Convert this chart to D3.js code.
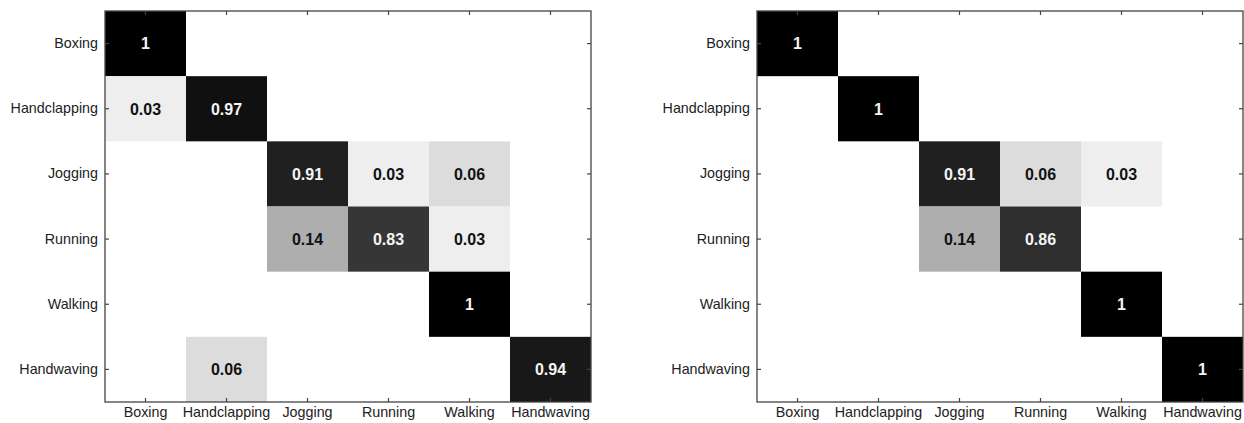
<!DOCTYPE html>
<html>
<head>
<meta charset="utf-8">
<script src="https://cdn.jsdelivr.net/npm/d3@7"></script>
<style>
  html, body { margin: 0; padding: 0; background: #fff; }
  svg { display: block; }
  text { font-family: "Liberation Sans", Arial, Helvetica, sans-serif; }
</style>
</head>
<body>
<svg id="chart" width="1244" height="423"></svg>
<script>
// Action classes (rows = true class, columns = predicted class)
const categories = ["Boxing", "Handclapping", "Jogging", "Running", "Walking", "Handwaving"];

// Confusion matrix, first method
const matrixLeft = [
  [1,    0,    0,    0,    0,    0   ],
  [0.03, 0.97, 0,    0,    0,    0   ],
  [0,    0,    0.91, 0.03, 0.06, 0   ],
  [0,    0,    0.14, 0.83, 0.03, 0   ],
  [0,    0,    0,    0,    1,    0   ],
  [0,    0.06, 0,    0,    0,    0.94]
];

// Confusion matrix, second method
const matrixRight = [
  [1,    0,    0,    0,    0,    0   ],
  [0,    1,    0,    0,    0,    0   ],
  [0,    0,    0.91, 0.06, 0.03, 0   ],
  [0,    0,    0.14, 0.86, 0,    0   ],
  [0,    0,    0,    0,    1,    0   ],
  [0,    0,    0,    0,    0,    1   ]
];

const svg = d3.select("#chart");

// gray level for a cell value (white = 0, black = 1)
const grayLevel = d3.scaleLinear()
  .domain([0, 0.15, 0.8, 0.97, 1])
  .range([255, 168, 62, 16, 0])
  .clamp(true);
const cellColor = v => { const g = Math.round(grayLevel(v)); return `rgb(${g},${g},${g})`; };
const fmt = v => (v === 1 ? "1" : v.toFixed(2));

function drawMatrix(matrix, box) {
  const g = svg.append("g").attr("transform", `translate(${box.x},${box.y})`);
  const x = d3.scaleBand().domain(categories).range([0, box.w]).padding(0);
  const y = d3.scaleBand().domain(categories).range([0, box.h]).padding(0);

  const cells = [];
  matrix.forEach((row, i) => row.forEach((v, j) => {
    if (v > 0) cells.push({ row: categories[i], col: categories[j], v });
  }));

  g.selectAll("rect.cell").data(cells).join("rect")
    .attr("class", "cell")
    .attr("x", d => x(d.col))
    .attr("y", d => y(d.row))
    .attr("width", x.bandwidth())
    .attr("height", y.bandwidth())
    .attr("fill", d => cellColor(d.v));

  g.selectAll("text.val").data(cells).join("text")
    .attr("class", "val")
    .attr("x", d => x(d.col) + x.bandwidth() / 2)
    .attr("y", d => y(d.row) + y.bandwidth() / 2)
    .attr("dy", "0.36em")
    .attr("text-anchor", "middle")
    .attr("font-size", 16)
    .attr("font-weight", "bold")
    .attr("fill", d => d.v > 0.5 ? "#f4f4f4" : "#111")
    .text(d => fmt(d.v));

  // axes with inward ticks on all four sides
  const tick = 4;
  const axisStyle = sel => {
    sel.select(".domain").remove();
    sel.selectAll(".tick line").attr("stroke", "#444").attr("stroke-width", 1.2);
    sel.selectAll(".tick text")
      .attr("fill", "#222")
      .attr("font-size", 14.3)
      .attr("font-family", "'Liberation Sans', Arial, Helvetica, sans-serif");
  };

  g.append("g").attr("transform", `translate(0,${box.h})`)
    .call(d3.axisBottom(x).tickSizeInner(-tick).tickSizeOuter(0).tickPadding(5))
    .call(axisStyle);
  g.append("g")
    .call(d3.axisTop(x).tickSizeInner(-tick).tickSizeOuter(0).tickFormat(""))
    .call(axisStyle);
  g.append("g")
    .call(d3.axisLeft(y).tickSizeInner(-tick).tickSizeOuter(0).tickPadding(7))
    .call(axisStyle);
  g.append("g").attr("transform", `translate(${box.w},0)`)
    .call(d3.axisRight(y).tickSizeInner(-tick).tickSizeOuter(0).tickFormat(""))
    .call(axisStyle);

  g.append("rect")
    .attr("x", 0).attr("y", 0)
    .attr("width", box.w).attr("height", box.h)
    .attr("fill", "none")
    .attr("stroke", "#444")
    .attr("stroke-width", 1.3);
}

drawMatrix(matrixLeft,  { x: 105, y: 11, w: 486, h: 391 });
drawMatrix(matrixRight, { x: 757, y: 11, w: 486, h: 391 });
</script>
</body>
</html>
